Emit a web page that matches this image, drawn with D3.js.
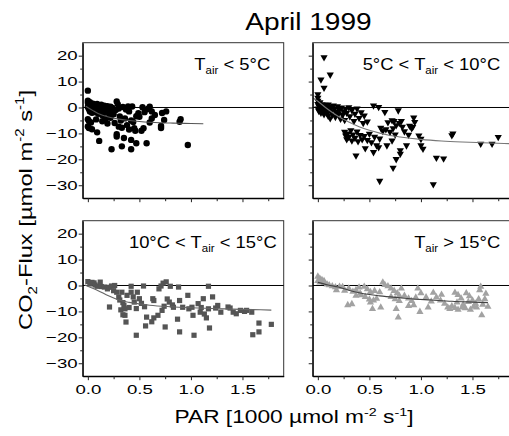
<!DOCTYPE html>
<html><head><meta charset="utf-8">
<script src="https://cdn.jsdelivr.net/npm/d3@7"></script>
<style>
body{margin:0;background:#fff}
svg{display:block}
text{font-family:"Liberation Sans",Arial,sans-serif;fill:#000}
</style>
</head><body>
<svg id="c" width="509" height="436"></svg>
<script>
// ---------- data ----------
const titleText = "April 1999";
const xTicks = [0, 0.5, 1, 1.5];
const xMinor = [0.25, 0.75, 1.25, 1.75];
const yTicks = [20, 10, 0, -10, -20, -30];
const yMinor = [15, 5, -5, -15, -25];
const xDomain = [-0.05, 1.9];
const yDomain = [-35, 25];

const labelCold = [["T",""],["air","sub"],[" < 5°C",""]];
const labelCool = [["5°C < T",""],["air","sub"],[" < 10°C",""]];
const labelWarm = [["10°C < T",""],["air","sub"],[" < 15°C",""]];
const labelHot  = [["T",""],["air","sub"],[" > 15°C",""]];

// [PAR (1000 µmol m-2 s-1), CO2 flux (µmol m-2 s-1)]
const cold = [[0.00,6.5],[0.00,2.6],[0.00,1.8],[0.01,1.0],[0.00,0.2],[0.01,-0.6],[0.02,-1.5],[0.02,2.0],[0.03,1.2],[0.03,0.5],[0.04,-0.3],[0.04,-2.0],[0.05,1.5],[0.05,0.8],[0.06,-0.8],[0.06,-1.8],[0.07,1.0],[0.07,0.0],[0.08,-1.2],[0.09,1.4],[0.09,0.4],[0.10,-0.5],[0.10,-2.4],[0.11,0.9],[0.12,-0.1],[0.12,-1.5],[0.13,1.1],[0.14,0.2],[0.14,-3.0],[0.15,-0.9],[0.16,0.7],[0.17,-0.3],[0.18,-1.9],[0.19,0.5],[0.20,-0.8],[0.21,-3.3],[0.22,0.3],[0.23,-1.6],[0.24,-0.2],[0.25,-2.6],[0.27,-1.0],[0.28,2.3],[0.29,1.3],[0.30,-0.4],[0.31,-3.5],
[0.00,-4.5],[0.01,-5.2],[0.00,-7.3],[0.01,-7.9],[0.04,-8.4],[0.03,-5.8],[0.08,-4.6],[0.09,-9.6],[0.11,-12.9],[0.14,-5.3],[0.17,-4.4],[0.19,-6.2],[0.23,-16.1],[0.22,-4.0],[0.26,-6.0],[0.28,-10.3],[0.28,-11.2],[0.30,-7.4],[0.32,-5.0],[0.33,-15.0],[0.33,-7.8],[0.35,-11.8],[0.36,-4.2],
[0.34,0.2],[0.37,-0.8],[0.39,0.4],[0.40,-1.5],[0.42,-16.1],[0.42,-12.5],[0.42,-5.0],[0.43,0.4],[0.44,-5.6],[0.45,-8.0],[0.46,-9.0],[0.47,-13.8],[0.47,-3.4],[0.49,-2.2],[0.38,-6.8],[0.40,-8.5],[0.50,-3.6],[0.52,-9.0],[0.53,0.1],[0.54,-8.0],[0.55,-1.8],[0.57,-13.8],[0.58,-0.6],[0.60,-5.8],[0.60,0.3],[0.62,-4.2],[0.62,-1.5],[0.65,-2.9],[0.71,-7.1],[0.71,-7.9],[0.72,-2.1],[0.74,-4.8],[0.76,-1.5],[0.89,-5.5],[0.90,-4.5],[0.97,-14.5]];

const cool = [[0.06,19.2],[0.12,12.5],[0.03,10.6],[0.06,7.4],[0.00,4.9],[0.00,3.6],
[0.00,2.4],[0.00,1.2],[0.01,0.3],[0.00,-0.6],[0.01,-1.5],[0.02,1.8],[0.02,0.8],[0.03,-0.2],[0.03,-2.2],[0.04,1.1],[0.04,-1.0],[0.05,0.4],[0.05,-1.8],[0.06,-2.8],[0.07,0.9],[0.07,-0.5],[0.08,-1.4],[0.09,0.2],[0.09,-2.4],[0.10,-3.4],[0.10,1.0],[0.11,-0.8],[0.12,-4.3],[0.13,0.1],[0.13,-1.7],[0.14,-2.9],[0.15,0.6],[0.16,-0.9],[0.17,-3.8],[0.18,-1.8],[0.19,0.3],[0.20,-2.6],[0.21,-1.0],[0.22,-4.5],[0.23,-0.2],[0.24,-3.1],[0.25,-1.6],[0.26,-5.0],[0.27,-0.7],[0.28,-2.2],[0.30,-0.1],[0.31,-3.6],[0.33,-1.2],[0.35,-5.4],[0.36,-2.6],[0.38,-0.6],[0.40,-4.2],[0.42,-2.0],[0.44,-6.2],[0.45,-3.3],[0.48,-5.6],
[0.26,-9.6],[0.27,-11.0],[0.28,-12.4],[0.29,-10.2],[0.30,-11.6],[0.32,-9.0],[0.33,-12.9],[0.34,-10.6],[0.36,-11.9],[0.38,-9.5],[0.39,-13.2],[0.41,-10.8],[0.43,-12.4],[0.45,-11.2],[0.46,-15.9],[0.48,-12.7],[0.50,-10.3],[0.52,-13.6],[0.54,-17.4],[0.55,-11.5],[0.57,-14.8],[0.59,-15.5],[0.60,-12.2],[0.37,-18.7],
[0.54,0.6],[0.59,0.0],[0.61,-8.0],[0.63,-9.2],[0.65,-1.9],[0.66,-8.6],[0.67,-14.8],[0.68,-5.9],[0.70,-9.6],[0.72,-12.9],[0.72,-5.1],[0.73,-8.2],[0.74,-5.4],[0.75,-10.6],[0.76,-7.0],[0.78,-1.3],[0.79,-6.2],[0.80,-16.7],[0.80,-18.0],[0.81,-5.4],[0.82,-7.6],[0.84,-9.4],[0.86,-14.8],[0.88,-10.7],[0.89,-7.2],[0.91,-8.2],[0.92,-7.7],[0.93,-4.1],[0.94,-5.8],[0.98,-11.0],[1.00,-12.3],[1.00,-14.8],[1.02,-16.1],[0.76,-20.1],[0.73,-23.4],[0.60,-28.5],[1.12,-29.8],[1.15,-19.6],[1.22,-19.9],[1.30,-10.9],[1.31,-10.2],[1.58,-14.2],[1.69,-14.2],[1.75,-11.6]];

const warm = [[0.00,1.5],[0.02,0.6],[0.04,1.2],[0.06,1.0],[0.07,0.2],[0.09,-0.3],[0.12,1.3],[0.13,-0.4],[0.16,-0.6],[0.19,-1.3],[0.21,-0.7],[0.23,-0.2],[0.26,0.0],[0.25,-2.0],[0.21,-8.3],
[0.28,-2.6],[0.30,-4.5],[0.31,-5.6],[0.33,-2.6],[0.34,-6.6],[0.35,-7.7],[0.32,-9.4],[0.36,-9.0],[0.34,-11.3],[0.36,-11.5],[0.37,-14.1],[0.38,-3.8],[0.40,-8.5],[0.42,-2.6],[0.42,-0.3],[0.44,-4.4],[0.45,-6.4],[0.47,-8.9],[0.47,-19.2],[0.48,-2.6],[0.50,-5.1],[0.52,-6.9],[0.54,-0.2],[0.55,-8.2],[0.56,-15.6],[0.57,-12.2],[0.62,-14.0],[0.63,-5.1],[0.64,-12.5],[0.64,-5.8],[0.68,-11.5],[0.69,-1.3],[0.71,-0.2],[0.72,-9.6],[0.73,0.9],[0.74,-8.0],[0.75,-16.0],[0.76,1.4],[0.77,-5.2],[0.79,-6.4],[0.80,-0.3],[0.82,-7.5],[0.83,-8.4],[0.88,-0.6],[0.89,-5.8],[0.87,-13.0],[0.89,-17.9],[0.92,-8.4],[0.97,-3.8],[0.98,-9.0],[1.01,-8.4],[1.02,-11.5],[1.03,-19.2],[1.07,-7.0],[1.09,-10.3],[1.10,-8.5],[1.12,-5.1],[1.13,-11.0],[1.15,-12.5],[1.17,-0.3],[1.17,-9.0],[1.18,-16.4],[1.21,-4.4],[1.24,-8.7],[1.26,-7.7],[1.29,-10.3],[1.36,-8.3],[1.38,-8.7],[1.41,-10.3],[1.44,-10.9],[1.48,-9.6],[1.52,-10.0],[1.54,-9.6],[1.59,-10.3],[1.60,-19.0],[1.66,-17.9],[1.66,-14.5],[1.78,-15.0]];

const hot = [[0.00,3.6],[0.02,2.8],[0.04,2.3],[0.06,1.9],[0.00,1.9],[0.02,1.3],[0.06,1.2],[0.09,0.6],[0.11,0.3],[0.14,-0.1],[0.17,-0.5],[0.21,-0.3],[0.24,-0.4],[0.29,-7.4],[0.33,-7.0],[0.30,-1.0],[0.34,-2.2],[0.37,-1.6],[0.40,-0.6],[0.41,-2.9],[0.45,-0.3],[0.48,-1.3],[0.51,-2.3],[0.55,-1.9],[0.37,-3.8],[0.42,-3.6],[0.46,-4.2],[0.50,-5.2],[0.54,-5.6],[0.57,-4.9],[0.51,-6.4],[0.53,-8.9],[0.61,-8.3],[0.63,1.3],[0.65,0.4],[0.68,-0.1],[0.71,-1.0],[0.74,-1.9],[0.77,-2.8],[0.79,-3.8],[0.81,-1.0],[0.71,-4.2],[0.75,-5.1],[0.79,-5.8],[0.84,-3.8],[0.88,-4.8],[0.91,-5.8],[0.88,-7.7],[0.76,-8.9],[0.78,-12.2],[0.93,-7.4],[0.99,-10.0],[0.97,-1.0],[1.00,-2.8],[1.05,-4.4],[1.07,-8.3],[1.12,-2.6],[1.15,-4.4],[1.19,-5.6],[1.23,-6.9],[1.26,-8.3],[1.28,-8.9],[1.33,-2.6],[1.36,-3.5],[1.39,-4.8],[1.41,-7.2],[1.44,-2.8],[1.47,-4.0],[1.50,-5.6],[1.53,-6.9],[1.56,-5.1],[1.58,-0.3],[1.57,-1.6],[1.60,-7.2],[1.62,-5.1],[1.54,-8.3],[1.51,-8.0],[1.48,-9.2],[1.43,-8.6],[1.40,-8.3],[1.36,-9.2],[1.33,-8.5],[1.30,-7.8],[1.35,-6.4],[1.59,-11.3],[1.46,-6.2],[1.63,-3.0],[1.65,-8.0],[1.20,-3.4],[1.10,-6.0],[0.95,-4.5],[0.60,-2.4],[0.26,-1.8],[0.18,-1.6]];

// fitted light-response curves
const fitCold = [[-0.02,0.5],[0.05,-1.2],[0.1,-2.3],[0.2,-3.7],[0.3,-4.5],[0.4,-5.0],[0.5,-5.4],[0.6,-5.7],[0.7,-5.9],[0.8,-6.0],[0.9,-6.1],[1.0,-6.2],[1.12,-6.3]];
const fitCool = [[-0.05,3.8],[0,2.4],[0.1,-0.8],[0.2,-3.5],[0.3,-5.6],[0.4,-7.4],[0.5,-8.8],[0.6,-9.9],[0.7,-10.8],[0.8,-11.4],[1.0,-12.3],[1.2,-12.9],[1.4,-13.3],[1.6,-13.6],[1.9,-14.0]];
const fitWarm = [[-0.03,0.2],[0.1,-2.0],[0.2,-4.0],[0.3,-5.6],[0.4,-6.5],[0.5,-7.1],[0.6,-7.6],[0.8,-8.2],[1.0,-8.6],[1.2,-8.9],[1.4,-9.1],[1.6,-9.3],[1.78,-9.5]];
const fitHot = [[0,1.2],[0.1,0.2],[0.2,-0.6],[0.3,-1.8],[0.4,-2.8],[0.5,-3.5],[0.6,-4.0],[0.75,-4.6],[0.9,-5.1],[1.1,-5.6],[1.3,-6.1],[1.5,-6.4],[1.65,-6.6]];

// ---------- layout ----------
const svg = d3.select("#c");
const FONT = '"Liberation Sans", Arial, sans-serif';
const colX = [82.7, 312.7], rowY = [42.7, 220.7], PW = 201, PH = 155.5;

const panels = [
  {pts: cold, fit: fitCold, shape: "circle", color: "#000", fitColor: "#555", col: 0, row: 0, label: labelCold, lx: -13.5},
  {pts: cool, fit: fitCool, shape: "down",   color: "#000", fitColor: "#777", col: 1, row: 0, label: labelCool, lx: -13.5},
  {pts: warm, fit: fitWarm, shape: "square", color: "#555", fitColor: "#666", col: 0, row: 1, label: labelWarm, lx: -7},
  {pts: hot,  fit: fitHot,  shape: "up",     color: "#a2a2a2", fitColor: "#444", col: 1, row: 1, label: labelHot, lx: -13.5}
];

panels.forEach(p => {
  const x0 = colX[p.col], y0 = rowY[p.row];
  const x = d3.scaleLinear().domain(xDomain).range([x0, x0 + PW]);
  const y = d3.scaleLinear().domain(yDomain).range([y0 + PH, y0]);
  const g = svg.append("g");

  // frame
  g.append("rect").attr("x", x0).attr("y", y0).attr("width", PW).attr("height", PH)
    .attr("fill", "none").attr("stroke", "#333").attr("stroke-width", 1);

  // zero line
  g.append("line").attr("x1", x0).attr("x2", x0 + PW).attr("y1", y(0)).attr("y2", y(0))
    .attr("stroke", "#000").attr("stroke-width", 1);

  // points
  const pg = g.append("g").attr("fill", p.color);
  if (p.shape === "circle") {
    pg.selectAll("circle").data(p.pts).join("circle")
      .attr("cx", d => x(d[0])).attr("cy", d => y(d[1])).attr("r", 3.2);
  } else if (p.shape === "square") {
    pg.selectAll("rect").data(p.pts).join("rect")
      .attr("x", d => x(d[0]) - 2.6).attr("y", d => y(d[1]) - 2.6).attr("width", 5.2).attr("height", 5.2);
  } else if (p.shape === "down") {
    pg.selectAll("path").data(p.pts).join("path")
      .attr("d", d => { const cx = x(d[0]), cy = y(d[1]); return `M${cx-3.6},${cy-2.5}L${cx+3.6},${cy-2.5}L${cx},${cy+3.8}Z`; });
  } else {
    pg.selectAll("path").data(p.pts).join("path")
      .attr("d", d => { const cx = x(d[0]), cy = y(d[1]); return `M${cx-3.6},${cy+2.5}L${cx+3.6},${cy+2.5}L${cx},${cy-3.8}Z`; });
  }

  // fit curve
  g.append("path").datum(p.fit)
    .attr("d", d3.line().x(d => x(d[0])).y(d => y(d[1])).curve(d3.curveMonotoneX))
    .attr("fill", "none").attr("stroke", p.fitColor).attr("stroke-width", 1.1);

  // axes
  const showX = p.row === 1, showY = p.col === 0;
  const xa = g.append("g").attr("transform", `translate(0,${y0 + PH})`)
    .call(d3.axisBottom(x).tickValues(xTicks).tickSize(4).tickSizeOuter(0).tickPadding(4)
      .tickFormat(showX ? d3.format(".1f") : () => ""));
  g.append("g").attr("transform", `translate(0,${y0 + PH})`)
    .call(d3.axisBottom(x).tickValues(xMinor).tickSize(3).tickSizeOuter(0).tickFormat(() => ""))
    .call(s => s.select(".domain").remove());
  const ya = g.append("g").attr("transform", `translate(${x0},0)`)
    .call(d3.axisLeft(y).tickValues(yTicks).tickSize(4).tickSizeOuter(0)
      .tickFormat(showY ? d3.format("d") : () => ""));
  g.append("g").attr("transform", `translate(${x0},0)`)
    .call(d3.axisLeft(y).tickValues(yMinor).tickSize(2.5).tickSizeOuter(0).tickFormat(() => ""))
    .call(s => s.select(".domain").remove());

  [xa, ya].forEach(a => {
    a.attr("font-size", 13.5).attr("font-family", FONT);
    a.select(".domain").attr("stroke", "#000").attr("stroke-width", 1.2);
  });
  g.selectAll(".tick line").attr("stroke", "#222");
  xa.selectAll(".tick text").attr("transform", "scale(1.38,1)").attr("dy", "0.71em");
  ya.selectAll(".tick text").attr("x", null).attr("transform", "translate(-5,0) scale(1.38,1)");

  // panel label
  const t = g.append("text").attr("text-anchor", "end").attr("font-size", 16)
    .attr("transform", `translate(${x0 + PW + p.lx},${y0 + 27}) scale(1.15,1)`);
  p.label.forEach(seg => {
    const ts = t.append("tspan").text(seg[0]);
    if (seg[1] === "sub") ts.attr("font-size", 10).attr("dy", 4);
    else if (t.selectAll("tspan").size() > 1) ts.attr("dy", -4);
  });
});

// title
svg.append("text").attr("text-anchor", "middle").attr("font-size", 24)
  .attr("transform", "translate(308.5,30) scale(1.17,1)").text(titleText);

// x axis title
const xt = svg.append("text").attr("text-anchor", "middle").attr("font-size", 17.5)
  .attr("transform", "translate(294,422.5) scale(1.3,1)");
xt.append("tspan").text("PAR [1000 µmol m");
xt.append("tspan").attr("font-size", 11).attr("dy", -7).text("-2");
xt.append("tspan").attr("dy", 7).text(" s");
xt.append("tspan").attr("font-size", 11).attr("dy", -7).text("-1");
xt.append("tspan").attr("dy", 7).text("]");

// y axis title
const yt = svg.append("text").attr("text-anchor", "middle").attr("font-size", 19)
  .attr("transform", "translate(31.5,210) rotate(-90) scale(1.25,1)");
yt.append("tspan").text("CO");
yt.append("tspan").attr("font-size", 12).attr("dy", 5).text("2");
yt.append("tspan").attr("dy", -5).text("-Flux [µmol m");
yt.append("tspan").attr("font-size", 12).attr("dy", -8).text("-2");
yt.append("tspan").attr("dy", 8).text(" s");
yt.append("tspan").attr("font-size", 12).attr("dy", -8).text("-1");
yt.append("tspan").attr("dy", 8).text("]");
</script>
</body></html>
